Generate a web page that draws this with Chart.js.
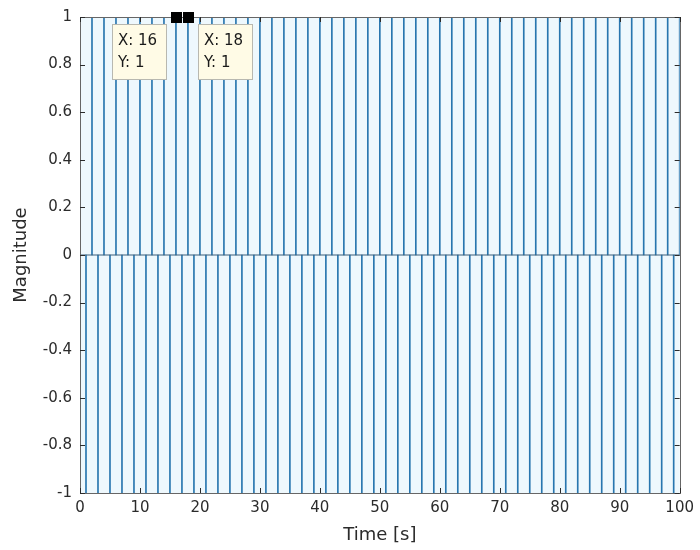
<!DOCTYPE html>
<html>
<head>
<meta charset="utf-8">
<script src="https://cdn.jsdelivr.net/npm/chart.js@4.4.1/dist/chart.umd.min.js"></script>
<style>
  body { margin: 0; background: #fff; }
  #wrap { width: 700px; height: 550px; }
</style>
</head>
<body>
<div id="wrap"><canvas id="grafica" width="700" height="550"></canvas></div>
<script>
// sample index (s) and stem values
const time = [0,1,2,3,4,5,6,7,8,9,10,11,12,13,14,15,16,17,18,19,20,21,22,23,24,25,26,27,28,29,30,
  31,32,33,34,35,36,37,38,39,40,41,42,43,44,45,46,47,48,49,50,51,52,53,54,55,56,57,58,59,60,
  61,62,63,64,65,66,67,68,69,70,71,72,73,74,75,76,77,78,79,80,81,82,83,84,85,86,87,88,89,90,
  91,92,93,94,95,96,97,98,99,100];
const magnitude = [1,-1,1,-1,1,-1,1,-1,1,-1,1,-1,1,-1,1,-1,1,-1,1,-1,1,-1,1,-1,1,-1,1,-1,1,-1,1,
  -1,1,-1,1,-1,1,-1,1,-1,1,-1,1,-1,1,-1,1,-1,1,-1,1,-1,1,-1,1,-1,1,-1,1,-1,1,
  -1,1,-1,1,-1,1,-1,1,-1,1,-1,1,-1,1,-1,1,-1,1,-1,1,-1,1,-1,1,-1,1,-1,1,-1,1,
  -1,1,-1,1,-1,1,-1,1,-1,1];
const xTicks = [0, 10, 20, 30, 40, 50, 60, 70, 80, 90, 100];
const yTicks = [-1, -0.8, -0.6, -0.4, -0.2, 0, 0.2, 0.4, 0.6, 0.8, 1];
// data tips: [x, y, side]
const tips = [[16, 1, 'left'], [18, 1, 'right']];

const stemColor = 'rgb(40, 118, 175)';
const axisColor = '#2b2b2b';
const fontName = '"DejaVu Sans", Verdana, sans-serif';

const points = time.map((t, i) => ({ x: t, y: magnitude[i] }));

// fondo del área de trazado, marco y marcas de ejes hacia dentro
const axesBox = {
  id: 'axesBox',
  beforeDatasetsDraw(chart) {
    const a = chart.chartArea, c = chart.ctx;
    c.save();
    c.fillStyle = '#eef8fd';
    c.fillRect(a.left, a.top, a.right - a.left, a.bottom - a.top);
    c.restore();
  },
  afterDatasetsDraw(chart) {
    const a = chart.chartArea, c = chart.ctx;
    const xs = chart.scales.x, ys = chart.scales.y;
    c.save();
    c.strokeStyle = '#666';
    c.lineWidth = 1;
    c.strokeRect(Math.round(a.left) + 0.5, Math.round(a.top) + 0.5,
      Math.round(a.right - a.left), Math.round(a.bottom - a.top));
    c.strokeStyle = axisColor;
    c.beginPath();
    xTicks.forEach(v => {
      const px = Math.round(xs.getPixelForValue(v)) + 0.5;
      c.moveTo(px, a.bottom); c.lineTo(px, a.bottom - 5);
      c.moveTo(px, a.top); c.lineTo(px, a.top + 5);
    });
    yTicks.forEach(v => {
      const py = Math.round(ys.getPixelForValue(v)) + 0.5;
      c.moveTo(a.left, py); c.lineTo(a.left + 5, py);
      c.moveTo(a.right, py); c.lineTo(a.right - 5, py);
    });
    c.stroke();
    c.restore();
  },
  afterDraw(chart) {
    const c = chart.ctx;
    const xs = chart.scales.x, ys = chart.scales.y;
    c.save();
    tips.forEach(([tx, ty, side]) => {
      const px = xs.getPixelForValue(tx), py = ys.getPixelForValue(ty);
      const w = 54, h = 55;
      const bx = side === 'left' ? px - 10 - w : px + 10;
      const by = py + 7;
      c.fillStyle = '#fffbe6';
      c.strokeStyle = '#b8b8b0';
      c.lineWidth = 1;
      c.fillRect(Math.round(bx) + 0.5, Math.round(by) + 0.5, w, h);
      c.strokeRect(Math.round(bx) + 0.5, Math.round(by) + 0.5, w, h);
      c.fillStyle = '#1a1a1a';
      c.font = '15px ' + fontName;
      c.textBaseline = 'middle';
      c.textAlign = 'left';
      c.fillText('X: ' + tx, bx + 6, by + 17);
      c.fillText('Y: ' + ty, bx + 6, by + 39);
      c.fillStyle = '#000';
      c.fillRect(Math.round(px) - 5, Math.round(py) - 5, 11, 11);
    });
    c.restore();
  }
};

const ctx = document.getElementById('grafica').getContext('2d');

const config = {
  type: 'bar',
  data: {
    datasets: [
      {
        type: 'line',
        data: [{ x: 0, y: 0 }, { x: 100, y: 0 }],
        borderColor: '#3a5f7a',
        borderWidth: 1,
        pointRadius: 0,
        order: 1
      },
      {
        data: points,
        backgroundColor: stemColor,
        borderWidth: 0,
        barThickness: 1,
        order: 2
      }
    ]
  },
  options: {
    responsive: false,
    animation: false,
    layout: { padding: { left: 0, right: 16, top: 15, bottom: 4 } },
    plugins: {
      legend: { display: false },
      tooltip: { enabled: false }
    },
    scales: {
      x: {
        type: 'linear',
        min: 0,
        max: 100,
        offset: false,
        grid: { display: false, drawTicks: false },
        border: { display: false },
        afterBuildTicks: s => { s.ticks = xTicks.map(v => ({ value: v })); },
        afterFit: s => { s.height = 53; },
        ticks: {
          color: axisColor,
          padding: 6,
          maxRotation: 0,
          font: { family: fontName, size: 15 }
        },
        title: {
          display: true,
          text: 'Time [s]',
          color: axisColor,
          padding: { top: 0, bottom: 0 },
          font: { family: fontName, size: 18 }
        }
      },
      y: {
        min: -1,
        max: 1,
        grid: { display: false, drawTicks: false },
        border: { display: false },
        afterBuildTicks: s => { s.ticks = yTicks.map(v => ({ value: v })); },
        afterFit: s => { s.width = 80; },
        ticks: {
          color: axisColor,
          padding: 8,
          font: { family: fontName, size: 15 },
          callback: v => String(Number(v.toFixed(1)))
        },
        title: {
          display: true,
          text: 'Magnitude',
          color: axisColor,
          padding: { top: 11, bottom: 0 },
          font: { family: fontName, size: 18 }
        }
      }
    }
  },
  plugins: [axesBox]
};

const miGrafica = new Chart(ctx, config);
</script>
</body>
</html>
